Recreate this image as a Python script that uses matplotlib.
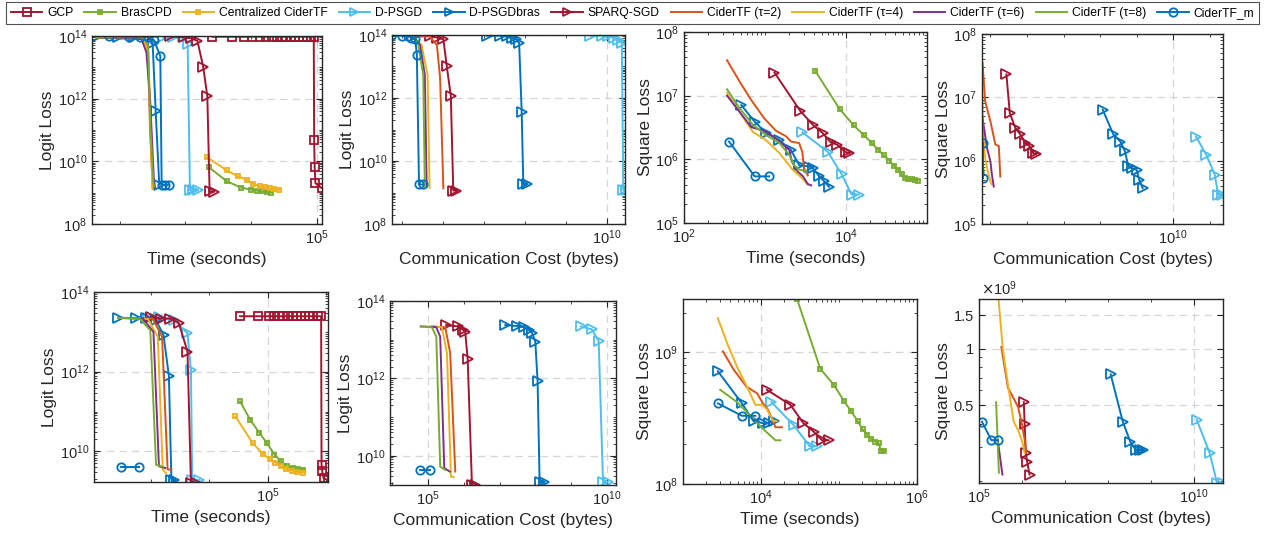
import matplotlib
matplotlib.use("Agg")
import matplotlib.pyplot as plt
from matplotlib.lines import Line2D
from matplotlib.ticker import (FixedLocator, FixedFormatter, LogLocator,
                               NullFormatter, LogFormatterSciNotation)

plt.rcParams["font.family"] = ["Liberation Sans", "DejaVu Sans"]

# ---- series names / styles (legend order) ----
names = ["GCP", "BrasCPD", "Centralized CiderTF", "D-PSGD", "D-PSGDbras",
         "SPARQ-SGD", "CiderTF (τ=2)", "CiderTF (τ=4)", "CiderTF (τ=6)",
         "CiderTF (τ=8)", "CiderTF_m"]
colors = ["#A2142F", "#77AC30", "#EDB120", "#4DBEEE", "#0072BD",
          "#A2142F", "#D95319", "#EDB120", "#7E2F8E", "#77AC30", "#0072BD"]
markers = ["s", "s", "s", ">", ">", ">", None, None, None, None, "o"]
msizes = [5.5, 3.5, 3.5, 7, 7, 7, 0, 0, 0, 0, 6]

# ---- row 1, logit loss vs time ----
logit_time_a = {
    "GCP": ([2570, 5130, 7760, 10200, 13500, 17000, 20600, 24700, 28900, 34000, 40000,
             46500, 54000, 61800, 71000, 81000, 89200, 90500, 92000, 94500, 118000],
            [9.5e13, 9.5e13, 9.5e13, 9.5e13, 9.5e13, 9.5e13, 9.5e13, 9.5e13, 9.5e13, 9.5e13,
             9.5e13, 9.5e13, 9.5e13, 9.5e13, 9.5e13, 9.5e13, 9.5e13, 4.7e10, 6.5e9, 2e9, 1.4e9]),
    "BrasCPD": ([2290, 4270, 7000, 10000, 12300, 14700, 17500, 20000],
                [6.4e9, 2.3e9, 1.45e9, 1.25e9, 1.15e9, 1.1e9, 1.05e9, 1.0e9]),
    "Centralized CiderTF": ([2140, 4270, 6300, 8500, 10700, 13500, 16000, 19000, 22500, 26700],
                            [1.35e10, 5.1e9, 3.3e9, 2.6e9, 1.9e9, 1.6e9, 1.5e9, 1.4e9, 1.3e9, 1.25e9]),
    "D-PSGD": ([457, 648, 910, 1080, 1170, 1320, 1550],
               [9e13, 9e13, 9e13, 5.5e13, 1.2e9, 1.2e9, 1.2e9]),
    "D-PSGDbras": ([44, 93, 163, 273, 317, 353, 400],
                   [9.5e13, 9.5e13, 9.5e13, 9.2e13, 6e13, 3.9e11, 1.8e9]),
    "SPARQ-SGD": ([288, 576, 950, 1210, 1520, 1860, 2150, 2330, 2700],
                  [1e14, 1e14, 9e13, 8.5e13, 7e13, 1.05e13, 1.2e12, 1.1e9, 1.07e9]),
    "CiderTF (τ=2)": ([44, 240, 268, 290, 318], [9e13, 8.5e13, 4e13, 1e11, 1.4e9]),
    "CiderTF (τ=4)": ([44, 230, 273, 295, 316], [9e13, 8e13, 3e13, 1e11, 1.3e9]),
    "CiderTF (τ=6)": ([44, 215, 255, 290, 330, 345], [9e13, 8e13, 3e13, 1e12, 3e9, 1.5e9]),
    "CiderTF (τ=8)": ([44, 240, 270, 295, 325, 340], [9e13, 9e13, 5e13, 1e11, 2e9, 1.6e9]),
    "CiderTF_m": ([68, 138, 204, 273, 332, 415, 435, 490, 563],
                  [1e14, 9.5e13, 9.5e13, 9.3e13, 7.4e13, 2.3e13, 1.8e9, 1.8e9, 1.8e9]),
}

# ---- row 1, logit loss vs communication ----
logit_comm_a = {
    "D-PSGD": ([3.9e9, 7.4e9, 1.07e10, 1.48e10, 1.9e10, 2.3e10, 2.5e10, 2.9e10],
               [9.5e13, 9.5e13, 9e13, 8.3e13, 7e13, 5.5e13, 1.2e9, 1.2e9]),
    "D-PSGDbras": ([1.17e7, 2.45e7, 3.55e7, 4.7e7, 6.0e7, 7.2e7, 8.3e7, 9.1e7, 1.1e8],
                   [9.5e13, 9.5e13, 9e13, 8.3e13, 7.4e13, 5.5e13, 3.7e11, 1.8e9, 1.9e9]),
    "SPARQ-SGD": ([2.2e5, 4.8e5, 7.1e5, 1.02e6, 1.23e6, 1.55e6, 1.78e6, 2.1e6],
                  [1e14, 9.3e13, 8.3e13, 7.4e13, 1.07e13, 1.17e12, 1.15e9, 1.15e9]),
    "CiderTF (τ=2)": ([2.1e5, 4.8e5, 7.1e5, 8.5e5, 1.02e6], [9e13, 9e13, 4.8e13, 4.2e12, 1.35e9]),
    "CiderTF (τ=4)": ([2.1e5, 3.0e5, 4.2e5, 4.7e5], [7.8e13, 4.8e13, 5.4e12, 1.4e9]),
    "CiderTF (τ=6)": ([2.1e5, 2.75e5, 3.6e5, 4.0e5], [7.8e13, 4.8e13, 5.4e12, 1.55e9]),
    "CiderTF (τ=8)": ([2.1e5, 2.5e5, 3.3e5, 3.6e5], [7.8e13, 4.8e13, 5.4e12, 1.55e9]),
    "CiderTF_m": ([5.4e4, 9.8e4, 1.4e5, 1.7e5, 2.1e5, 2.3e5, 2.6e5, 3.2e5],
                  [9.5e13, 9.5e13, 9e13, 8.3e13, 7.4e13, 2.4e13, 1.8e9, 1.8e9]),
}

# ---- row 1, square loss vs time ----
square_time_a = {
    "BrasCPD": ([4170, 8320, 12500, 16600, 20900, 25100, 29500, 34300, 38700, 43800,
                 49000, 53800, 59000, 64700, 70900, 76600],
                [2.45e7, 6.2e6, 3.4e6, 2.4e6, 1.8e6, 1.4e6, 1.15e6, 9.5e5, 8.0e5, 6.9e5,
                 5.9e5, 5.0e5, 4.9e5, 4.9e5, 4.8e5, 4.6e5]),
    "D-PSGD": ([2900, 6000, 8850, 11700, 14400], [2.65e6, 1.3e6, 5.8e5, 2.8e5, 2.8e5]),
    "D-PSGDbras": ([510, 745, 1030, 1510, 2090, 2640, 3520, 3870, 4680, 5400, 6160],
                   [7.1e6, 3.9e6, 2.6e6, 2.0e6, 1.4e6, 8.1e5, 7.7e5, 7.3e5, 5.4e5, 4.5e5, 3.7e5]),
    "SPARQ-SGD": ([1310, 2740, 3880, 5130, 6460, 7760, 9900, 11000],
                  [2.3e7, 5.7e6, 3.5e6, 2.6e6, 1.85e6, 1.7e6, 1.3e6, 1.25e6]),
    "CiderTF (τ=2)": ([340, 488, 678, 980, 1370, 1820, 2100, 2640, 2890, 3030, 3370],
                      [3.6e7, 1.65e7, 8.5e6, 4.4e6, 2.8e6, 2.3e6, 1.9e6, 1.8e6, 1.3e6, 7.2e5, 5.6e5]),
    "CiderTF (τ=4)": ([340, 708, 1030, 1510, 2190, 2900, 3370],
                      [1.1e7, 2.7e6, 2.0e6, 1.25e6, 6.9e5, 5.0e5, 4.0e5]),
    "CiderTF (τ=6)": ([340, 678, 1030, 1450, 2000, 2140, 2510, 2950, 3370, 3720],
                      [1.0e7, 3.2e6, 2.75e6, 2.0e6, 1.4e6, 9.3e5, 6.5e5, 5.4e5, 4.1e5, 3.9e5]),
    "CiderTF (τ=8)": ([340, 488, 708, 1030, 1510, 2000, 2290, 2640, 3240],
                      [1.26e7, 6.3e6, 3.5e6, 2.4e6, 1.8e6, 1.17e6, 8.1e5, 6.9e5, 6.5e5]),
    "CiderTF_m": ([360, 745, 1120], [1.9e6, 5.4e5, 5.4e5]),
}

# ---- row 1, square loss vs communication ----
square_comm_a = {
    "D-PSGD": ([4.2e10, 8.1e10, 1.37e11, 1.7e11, 2.2e11], [2.4e6, 1.23e6, 6.0e5, 2.9e5, 2.9e5]),
    "D-PSGDbras": ([1.18e8, 2.3e8, 3.6e8, 4.8e8, 5.9e8, 7.3e8, 1e9, 1.18e9, 1.46e9],
                   [6.4e6, 2.6e6, 2.0e6, 1.4e6, 8.2e5, 7.6e5, 7.2e5, 5.0e5, 3.7e5]),
    "SPARQ-SGD": ([2.74e5, 3.4e5, 4.8e5, 6.6e5, 9.0e5, 1.17e6, 1.5e6, 1.8e6],
                  [2.3e7, 5.6e6, 3.3e6, 2.6e6, 1.9e6, 1.7e6, 1.3e6, 1.28e6]),
    "CiderTF (τ=2)": ([6.1e4, 7.2e4, 1e5, 1.37e5, 1.7e5, 1.87e5], [3.5e7, 8.7e6, 4.2e6, 1.8e6, 1.7e6, 5.6e5]),
    "CiderTF (τ=4)": ([6.1e4, 7.2e4, 8.5e4, 1e5, 1.1e5], [3.7e6, 1.1e6, 6.8e5, 4.7e5, 4.2e5]),
    "CiderTF (τ=6)": ([6.1e4, 8.1e4, 1e5, 1.1e5, 1.24e5], [4.7e6, 1.58e6, 9.8e5, 6.0e5, 3.9e5]),
    "CiderTF (τ=8)": ([6.0e4, 6.1e4, 6.3e4, 6.6e4], [1.24e7, 2.6e6, 8.7e5, 6.5e5]),
    "CiderTF_m": ([6.1e4, 6.1e4], [1.9e6, 5.4e5]),
}

# ---- row 2, logit loss vs time ----
logit_time_b = {
    "GCP": ([33500, 67300, 104000, 127000, 154000, 185000, 222000, 268000, 318000, 376000,
             440000, 515000, 604000, 715000, 816000, 830000, 850000, 900000, 1070000],
            [2.46e13, 2.46e13, 2.46e13, 2.46e13, 2.46e13, 2.46e13, 2.46e13, 2.46e13, 2.46e13,
             2.46e13, 2.46e13, 2.46e13, 2.46e13, 2.46e13, 2.46e13, 4.6e9, 3.2e9, 2.1e9, 1.9e9]),
    "BrasCPD": ([33600, 50000, 72000, 97000, 130000, 169000, 211000, 267000, 326000, 407000],
                [1.8e11, 6.2e10, 2.9e10, 1.6e10, 8.3e9, 5.6e9, 4.2e9, 3.8e9, 3.6e9, 3.5e9]),
    "Centralized CiderTF": ([28000, 55500, 82000, 107000, 135000, 169000, 206000, 257000, 318000, 396000],
                            [7.5e10, 1.6e10, 8.7e9, 6.5e9, 5.2e9, 4.2e9, 3.6e9, 3.3e9, 3.0e9, 2.9e9]),
    "D-PSGD": ([890, 1380, 2530, 4240, 4860, 5100, 6800],
               [2.24e13, 2.35e13, 2.0e13, 9.1e12, 1.1e12, 1.9e9, 1.9e9]),
    "D-PSGDbras": ([275, 565, 835, 1230, 1650, 2040, 2250, 2530],
                   [2.24e13, 2.24e13, 2.24e13, 1.95e13, 8.3e12, 7.8e11, 1.9e9, 1.9e9]),
    "SPARQ-SGD": ([1020, 1510, 2140, 3000, 4240, 4860, 5890],
                  [2.35e13, 2.15e13, 2.15e13, 1.7e13, 3.2e12, 1.6e9, 1.6e9]),
    "CiderTF (τ=2)": ([275, 1080, 1560, 1940, 2250], [2.24e13, 2.15e13, 7.5e12, 3.5e9, 3.5e9]),
    "CiderTF (τ=4)": ([275, 890, 1320, 1600, 1830], [2.24e13, 2.1e13, 7.5e12, 3.5e9, 2.8e9]),
    "CiderTF (τ=6)": ([275, 730, 1110, 1380, 1780], [2.24e13, 2.15e13, 1.0e13, 4.2e9, 3.8e9]),
    "CiderTF (τ=8)": ([275, 645, 980, 1230, 1600], [2.24e13, 2.15e13, 1.1e13, 4.6e9, 4.1e9]),
    "CiderTF_m": ([310, 620], [4.1e9, 4.1e9]),
}

# ---- row 2, logit loss vs communication ----
logit_comm_b = {
    "D-PSGD": ([1.86e9, 3.8e9, 5.9e9, 7.8e9, 1.05e10], [2.2e13, 1.85e13, 9.3e12, 2.1e9, 2.1e9]),
    "D-PSGDbras": ([1.45e7, 3.1e7, 4.7e7, 6.5e7, 8.1e7, 1e8, 1.16e8, 1.32e8, 1.7e8],
                   [2.4e13, 2.25e13, 2.1e13, 1.8e13, 1.5e13, 8.9e12, 8.5e11, 2.1e9, 2.1e9]),
    "SPARQ-SGD": ([3.24e5, 6.76e5, 9.55e5, 1.1e6, 1.29e6, 1.7e6, 2.1e6],
                  [2.4e13, 2.2e13, 1.8e13, 1.6e13, 3.1e12, 1.7e9, 1.7e9]),
    "CiderTF (τ=2)": ([1.29e5, 3.05e5, 4.18e5, 5.8e5], [2.2e13, 2.1e13, 4.5e12, 3.9e9]),
    "CiderTF (τ=4)": ([1.17e5, 2.45e5, 3.4e5, 4.4e5, 5.2e5], [2.2e13, 2.1e13, 4.5e12, 2.9e9, 2.8e9]),
    "CiderTF (τ=6)": ([6.3e4, 1.71e5, 2.2e5, 2.86e5, 4.04e5], [2.2e13, 2.1e13, 1.2e13, 4.8e9, 3.9e9]),
    "CiderTF (τ=8)": ([6.3e4, 1.29e5, 1.71e5, 2.2e5, 3.05e5], [2.2e13, 2.1e13, 1.2e13, 5.2e9, 4.3e9]),
    "CiderTF_m": ([6.1e4, 1.17e5], [4.3e9, 4.3e9]),
}

# ---- row 2, square loss vs time ----
square_time_b = {
    "BrasCPD": ([29000, 57600, 85500, 115000, 142000, 174000, 201000, 228000, 258000, 293000,
                 322000, 345000, 381000],
                [2.55e9, 7.5e8, 5.7e8, 4.3e8, 3.6e8, 3.0e8, 2.6e8, 2.37e8, 2.2e8, 2.1e8,
                 2.05e8, 1.78e8, 1.78e8]),
    "D-PSGD": ([13600, 26200, 42000, 52300], [4.2e8, 2.8e8, 1.94e8, 1.94e8]),
    "D-PSGDbras": ([2800, 5700, 8050, 10600, 12500, 14500], [7.2e8, 4.1e8, 3.0e8, 2.9e8, 2.9e8, 3.0e8]),
    "SPARQ-SGD": ([11900, 23800, 35000, 47300, 60700, 73700], [5.2e8, 4.0e8, 2.9e8, 2.5e8, 2.15e8, 2.15e8]),
    "CiderTF (τ=2)": ([3250, 4470, 6500, 8880, 10600, 12200, 14300, 15300, 18600],
                      [1.02e9, 7.4e8, 5.5e8, 4.9e8, 4.1e8, 3.7e8, 3.0e8, 2.7e8, 2.7e8]),
    "CiderTF (τ=4)": ([2800, 3670, 4920, 6620, 8460, 10300, 11900, 14300, 16000],
                      [1.82e9, 1.18e9, 7.8e8, 5.5e8, 4.0e8, 4.0e8, 3.7e8, 3.0e8, 3.0e8]),
    "CiderTF (τ=8)": ([3000, 4920, 7300, 10800, 15300, 17700], [5.2e8, 4.2e8, 3.3e8, 2.6e8, 2.15e8, 2.15e8]),
    "CiderTF_m": ([2800, 5700, 8460], [4.1e8, 3.3e8, 3.3e8]),
}

# ---- row 2, square loss vs communication ----
square_comm_b = {
    "D-PSGD": ([1.15e10, 2.3e10, 3.4e10, 4.7e10], [4.2e8, 2.8e8, 1.95e8, 1.95e8]),
    "D-PSGDbras": ([1.15e8, 2.2e8, 3.3e8, 4.4e8, 5.5e8, 6.6e8], [7.3e8, 4.1e8, 3.2e8, 2.9e8, 2.9e8, 2.9e8]),
    "SPARQ-SGD": ([1.1e6, 1.15e6, 1.22e6, 1.32e6, 1.5e6], [5.2e8, 4.0e8, 2.8e8, 2.5e8, 2.15e8]),
    "CiderTF (τ=2)": ([3.3e5, 4.7e5, 6.8e5, 8.1e5, 9.7e5, 1.15e6, 1.26e6],
                      [1.02e9, 6.2e8, 5.3e8, 4.9e8, 4.1e8, 3.3e8, 2.8e8]),
    "CiderTF (τ=4)": ([2.77e5, 3.6e5, 5.0e5, 6.4e5, 8.1e5, 1.02e6, 1.15e6],
                      [1.96e9, 9.8e8, 5.9e8, 4.1e8, 3.7e8, 3.2e8, 2.8e8]),
    "CiderTF (τ=6)": ([2.77e5, 3.5e5], [3.2e8, 2.15e8]),
    "CiderTF (τ=8)": ([2.5e5, 2.9e5], [5.2e8, 2.2e8]),
    "CiderTF_m": ([1.17e5, 1.94e5, 2.77e5], [4.1e8, 3.27e8, 3.27e8]),
}

W, H = 1265, 542
fig = plt.figure(figsize=(W / 100, H / 100), dpi=100)


def rect(l, t, r, b):
    return [l / W, 1 - b / H, (r - l) / W, (b - t) / H]


panels = [
    # box, data, xlim, ylim, xmajor, xminor subs, ymajor, ylabel, xlabel
    ((92, 36, 322, 224), logit_time_a, (38, 1.19e5), (1e8, 1e14), [1e5], (1.0,),
     [1e8, 1e10, 1e12, 1e14], "Logit Loss", "Time (seconds)"),
    ((392, 35, 625, 224), logit_comm_a, (5.7e4, 2.75e10), (1e8, 1e14), [1e10], (1.0,),
     [1e8, 1e10, 1e12, 1e14], "Logit Loss", "Communication Cost (bytes)"),
    ((684, 32, 927, 223), square_time_a, (1e2, 1e5), (1e5, 1e8), [1e2, 1e4], "all",
     [1e5, 1e6, 1e7, 1e8], "Square Loss", "Time (seconds)"),
    ((982, 34, 1223, 224), square_comm_a, (5.9e4, 2.3e11), (1e5, 1e8), [1e10], (1.0,),
     [1e5, 1e6, 1e7, 1e8], "Square Loss", "Communication Cost (bytes)"),
    ((94, 292, 328, 482), logit_time_b, (107, 1.07e6), (1.7e9, 1e14), [1e5], (1.0,),
     [1e10, 1e12, 1e14], "Logit Loss", "Time (seconds)"),
    ((390, 301, 616, 485), logit_comm_b, (8.7e3, 1.8e10), (1.75e9, 1e14), [1e5, 1e10], (1.0,),
     [1e10, 1e12, 1e14], "Logit Loss", "Communication Cost (bytes)"),
    ((683, 299, 917, 484), square_time_b, (1e3, 1e6), (1e8, 2.55e9), [1e4, 1e6], "all",
     [1e8, 1e9], "Square Loss", "Time (seconds)"),
    ((979, 299, 1223, 483), square_comm_b, (1e5, 4.7e10), (1.94e8, 1.83e9), [1e5, 1e10], (1.0,),
     [5e8, 1e9, 1.5e9], "Square Loss", "Communication Cost (bytes)"),
]

for i, (box, data, xlim, ylim, xmaj, xsubs, ymaj, ylab, xlab) in enumerate(panels):
    ax = fig.add_axes(rect(*box))
    ax.set_xscale("log")
    ax.set_yscale("log")
    for k, name in enumerate(names):
        if name not in data:
            continue
        x, y = data[name]
        kw = dict(color=colors[k], lw=1.4)
        if markers[k]:
            kw.update(marker=markers[k], ms=msizes[k], mfc="none", mew=1.3)
        ax.plot(x, y, **kw)
    ax.set_xlim(*xlim)
    ax.set_ylim(*ylim)

    ax.xaxis.set_major_locator(FixedLocator(xmaj))
    ax.xaxis.set_major_formatter(LogFormatterSciNotation())
    ax.xaxis.set_minor_locator(LogLocator(base=10, subs=xsubs, numticks=40))
    ax.xaxis.set_minor_formatter(NullFormatter())
    ax.yaxis.set_major_locator(FixedLocator(ymaj))
    if i == 7:
        ax.yaxis.set_major_formatter(FixedFormatter(["0.5", "1", "1.5"]))
        ax.text(0.01, 1.005, r"$\times\mathdefault{10^{9}}$", transform=ax.transAxes,
                ha="left", va="bottom", fontsize=10.5, color="#262626")
    else:
        ax.yaxis.set_major_formatter(LogFormatterSciNotation())
    ax.yaxis.set_minor_locator(LogLocator(base=10, subs="all", numticks=40))
    ax.yaxis.set_minor_formatter(NullFormatter())

    ax.set_axisbelow(True)
    ax.grid(True, which="major", ls=(0, (6, 4)), color="#d6d6d6", lw=0.9)
    ax.tick_params(which="both", direction="in", top=True, right=True,
                   colors="#262626", labelsize=10.5)
    ax.tick_params(which="major", length=4, width=0.8)
    ax.tick_params(which="minor", length=2, width=0.6)
    for s in ax.spines.values():
        s.set_color("#262626")
        s.set_linewidth(1.0)
    ax.set_ylabel(ylab, fontsize=12.5, color="#262626", labelpad=2)
    ax.set_xlabel(xlab, fontsize=12.5, color="#262626", labelpad=3)

handles = []
for k, name in enumerate(names):
    kw = dict(color=colors[k], lw=1.4)
    if markers[k]:
        kw.update(marker=markers[k], ms=min(msizes[k], 6), mfc="none", mew=1.3)
    handles.append(Line2D([], [], **kw))
leg = fig.legend(handles, names, loc="upper center", bbox_to_anchor=(0.5, 0.998),
                 ncol=11, fontsize=8.7, frameon=True, fancybox=False, edgecolor="#262626",
                 handlelength=2.6, handletextpad=0.4, columnspacing=0.92, borderpad=0.4,
                 borderaxespad=0.1)
leg.get_frame().set_linewidth(0.8)

fig.savefig("out.png", dpi=100)
